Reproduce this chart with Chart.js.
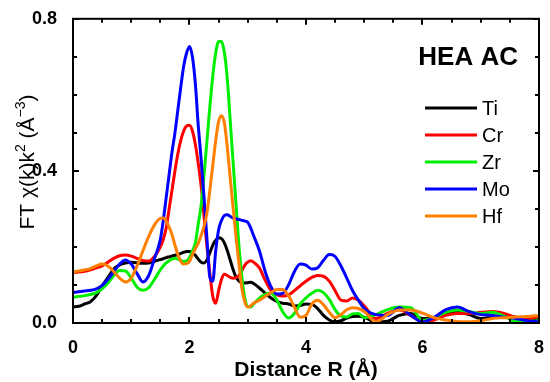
<!DOCTYPE html>
<html lang="en">
  <head>
    <meta charset="UTF-8" />
    <title>HEA AC - FT EXAFS</title>
    <style>
      html,
      body {
        margin: 0;
        padding: 0;
        background: #fff;
      }
      .wrap {
        width: 550px;
        height: 382px;
        position: relative;
      }
    </style>
    <script src="https://cdn.jsdelivr.net/npm/chart.js"></script>
  </head>
  <body>
    <div class="wrap"><canvas id="ftChart"></canvas></div>
    <script>
      // distance R (Å), finer spacing around the main peaks
      const distance = [
        0, 0.1, 0.2, 0.3, 0.4, 0.5, 0.6, 0.7, 0.8, 0.9, 1.0, 1.1, 1.2, 1.3, 1.4,
        1.5, 1.55, 1.6, 1.65, 1.7, 1.75, 1.8, 1.85, 1.9, 1.95, 2.0, 2.05, 2.1, 2.15, 2.2, 2.25,
        2.3, 2.35, 2.4, 2.45, 2.5, 2.55, 2.6, 2.65, 2.7, 2.75, 2.8, 2.85, 2.9, 2.95, 3.0, 3.05, 3.1,
        3.2, 3.3, 3.4, 3.5, 3.6, 3.7, 3.8, 3.9, 4.0, 4.1, 4.2, 4.3, 4.4, 4.5, 4.6, 4.7, 4.8, 4.9, 5.0,
        5.2, 5.4, 5.6, 5.8, 6.0, 6.2, 6.4, 6.6, 6.8, 7.0, 7.2, 7.4, 7.6, 7.8, 8.0,
      ];

      const ti = [
        0.042, 0.044, 0.05, 0.056, 0.072, 0.097, 0.12, 0.142, 0.153, 0.158, 0.16, 0.158, 0.157, 0.158, 0.162,
        0.167, 0.169, 0.172, 0.174, 0.176, 0.178, 0.18, 0.183, 0.186, 0.188, 0.188, 0.185, 0.178, 0.168, 0.16, 0.158,
        0.166, 0.185, 0.205, 0.218, 0.224, 0.222, 0.21, 0.19, 0.165, 0.14, 0.12, 0.11, 0.106, 0.105, 0.106, 0.107, 0.104,
        0.092, 0.078, 0.066, 0.057, 0.052, 0.05, 0.045, 0.046, 0.05, 0.049, 0.038, 0.02, 0.008, 0.003, 0.006, 0.013, 0.017, 0.018, 0.015,
        0.003, 0.005, 0.02, 0.025, 0.012, 0.012, 0.022, 0.028, 0.022, 0.012, 0.015, 0.02, 0.015, 0.01, 0.008,
      ];

      const cr = [
        0.133, 0.134, 0.136, 0.14, 0.145, 0.15, 0.16, 0.17, 0.177, 0.179, 0.176, 0.17, 0.164, 0.163, 0.175,
        0.2, 0.22, 0.25, 0.3, 0.35, 0.4, 0.445, 0.48, 0.505, 0.518, 0.52, 0.505, 0.47, 0.42, 0.36, 0.28,
        0.2, 0.13, 0.07, 0.052, 0.085, 0.115, 0.128, 0.125, 0.12, 0.118, 0.12, 0.125, 0.138, 0.152, 0.16, 0.164, 0.16,
        0.145, 0.112, 0.085, 0.074, 0.071, 0.074, 0.085, 0.098, 0.11, 0.12, 0.125, 0.123, 0.11, 0.085, 0.06, 0.058, 0.066, 0.06, 0.045,
        0.012, 0.025, 0.035, 0.02, 0.004, 0.008, 0.02, 0.025, 0.025, 0.028, 0.03, 0.025, 0.015, 0.01, 0.018,
      ];

      const zr = [
        0.068, 0.07, 0.072, 0.075, 0.08, 0.09, 0.105, 0.125, 0.138, 0.137, 0.118, 0.094, 0.086, 0.093, 0.115,
        0.14, 0.15, 0.158, 0.164, 0.168, 0.17, 0.168, 0.165, 0.162, 0.163, 0.172, 0.19, 0.21, 0.26, 0.31, 0.39,
        0.48, 0.57, 0.65, 0.71, 0.74, 0.74, 0.71, 0.64, 0.53, 0.42, 0.31, 0.2, 0.12, 0.065, 0.043, 0.042, 0.05,
        0.065, 0.075, 0.078, 0.06, 0.03, 0.013, 0.025, 0.05, 0.066, 0.078, 0.086, 0.08, 0.062, 0.035, 0.018, 0.016, 0.024, 0.025, 0.014,
        0.022, 0.035, 0.042, 0.04, 0.007, 0.015, 0.028, 0.034, 0.03, 0.025, 0.028, 0.018, 0.004, 0.004, 0.006,
      ];

      const mo = [
        0.08, 0.082, 0.084, 0.086, 0.09, 0.099, 0.115, 0.135, 0.155, 0.166, 0.155, 0.13, 0.108, 0.125, 0.17,
        0.22, 0.27, 0.33, 0.39, 0.45, 0.5, 0.56, 0.62, 0.675, 0.71, 0.727, 0.7, 0.63, 0.52, 0.43, 0.33,
        0.22, 0.12, 0.11, 0.19, 0.245, 0.27, 0.283, 0.285, 0.28, 0.276, 0.274, 0.272, 0.27, 0.268, 0.265, 0.25, 0.23,
        0.19, 0.135, 0.095, 0.076, 0.078, 0.1, 0.135, 0.155, 0.152, 0.142, 0.145, 0.165, 0.18, 0.175, 0.15, 0.118, 0.085, 0.06, 0.038,
        0.022, 0.02, 0.04, 0.02, 0.003, 0.015, 0.035, 0.042, 0.03, 0.022, 0.02, 0.015, 0.012, 0.006, 0.003,
      ];

      const hf = [
        0.135, 0.137, 0.14, 0.143, 0.15, 0.155, 0.15, 0.135, 0.118, 0.108, 0.118, 0.15, 0.19, 0.228, 0.258,
        0.275, 0.276, 0.268, 0.252, 0.232, 0.205, 0.18, 0.162, 0.155, 0.156, 0.162, 0.18, 0.195, 0.21, 0.23, 0.255,
        0.29, 0.35, 0.415, 0.48, 0.53, 0.545, 0.525, 0.46, 0.38, 0.3, 0.225, 0.155, 0.09, 0.055, 0.042, 0.045, 0.052,
        0.06, 0.07, 0.08, 0.088, 0.088, 0.072, 0.042, 0.015, 0.02, 0.05, 0.06, 0.048, 0.028, 0.014, 0.022, 0.035, 0.04, 0.038, 0.03,
        0.003, 0.022, 0.034, 0.034, 0.026, 0.014, 0.008, 0.004, 0.003, 0.006, 0.012, 0.014, 0.016, 0.017, 0.02,
      ];

      const elements = ["Ti", "Cr", "Zr", "Mo", "Hf"];
      const series = [ti, cr, zr, mo, hf];
      const lineColors = ["#000000", "#ff0000", "#00ee00", "#0000ff", "#ff8000"];

      const FONT = "'Liberation Sans', Arial, sans-serif";

      const datasets = elements.map((name, i) => ({
        label: name,
        data: distance.map((r, j) => ({ x: r, y: series[i][j] })),
        borderColor: lineColors[i],
        borderWidth: 3,
        pointRadius: 0,
        cubicInterpolationMode: "monotone",
        fill: false,
        order: elements.length - i, // Hf drawn on top
      }));

      // frame, inward ticks, title text and legend
      const decorPlugin = {
        id: "decor",
        afterDraw(chart) {
          const ctx = chart.ctx;
          const a = chart.chartArea;
          const xs = chart.scales.x;
          const ys = chart.scales.y;
          ctx.save();
          ctx.strokeStyle = "#000";
          ctx.lineWidth = 2;
          ctx.strokeRect(a.left, a.top, a.right - a.left, a.bottom - a.top);

          ctx.beginPath();
          xs.ticks.forEach((t) => {
            const px = Math.round(xs.getPixelForValue(t.value));
            const len = t.label ? 6 : 4;
            ctx.moveTo(px, a.bottom);
            ctx.lineTo(px, a.bottom - len);
            ctx.moveTo(px, a.top);
            ctx.lineTo(px, a.top + len);
          });
          ys.ticks.forEach((t) => {
            const py = Math.round(ys.getPixelForValue(t.value));
            const len = t.label ? 6 : 4;
            ctx.moveTo(a.left, py);
            ctx.lineTo(a.left + len, py);
            ctx.moveTo(a.right, py);
            ctx.lineTo(a.right - len, py);
          });
          ctx.stroke();

          ctx.fillStyle = "#000";

          // panel label
          ctx.font = "bold 26px " + FONT;
          ctx.textAlign = "right";
          ctx.textBaseline = "alphabetic";
          ctx.fillText("HEA AC", 518, 65);

          // legend
          ctx.font = "20px " + FONT;
          ctx.textAlign = "left";
          elements.forEach((name, i) => {
            const y = 108 + i * 27;
            ctx.strokeStyle = lineColors[i];
            ctx.lineWidth = 3;
            ctx.beginPath();
            ctx.moveTo(425, y);
            ctx.lineTo(477, y);
            ctx.stroke();
            ctx.fillText(name, 482, y + 7);
          });

          // x title
          ctx.font = "bold 21px " + FONT;
          ctx.textAlign = "center";
          ctx.fillText("Distance R (Å)", (a.left + a.right) / 2, 376);

          // y title with superscripts
          const parts = [
            ["FT χ(k)k", false],
            ["2", true],
            [" (Å", false],
            ["−3", true],
            [")", false],
          ];
          const big = "21px " + FONT;
          const small = "14px " + FONT;
          let total = 0;
          parts.forEach(([s, sup]) => {
            ctx.font = sup ? small : big;
            total += ctx.measureText(s).width;
          });
          ctx.translate(34, 162);
          ctx.rotate(-Math.PI / 2);
          ctx.textAlign = "left";
          let x = -total / 2;
          parts.forEach(([s, sup]) => {
            ctx.font = sup ? small : big;
            ctx.fillText(s, x, sup ? -9 : 0);
            x += ctx.measureText(s).width;
          });
          ctx.restore();
        },
      };

      const config = {
        type: "line",
        data: { datasets: datasets },
        options: {
          responsive: true,
          maintainAspectRatio: false,
          animation: false,
          layout: { padding: { left: 0, top: 15, right: 10, bottom: 0 } },
          plugins: { legend: { display: false }, tooltip: { enabled: false } },
          scales: {
            x: {
              type: "linear",
              min: 0,
              max: 8,
              grid: { display: false },
              border: { display: false },
              ticks: {
                stepSize: 0.5,
                autoSkip: false,
                maxRotation: 0,
                padding: 6,
                color: "#000",
                font: { family: FONT, size: 18, weight: "bold" },
                callback: (v) => (v % 2 === 0 ? String(v) : ""),
              },
              afterFit: (s) => {
                s.height = 59;
              },
            },
            y: {
              min: 0,
              max: 0.8,
              grid: { display: false },
              border: { display: false },
              ticks: {
                stepSize: 0.1,
                autoSkip: false,
                padding: 8,
                color: "#000",
                font: { family: FONT, size: 18, weight: "bold" },
                callback: (v) => (Math.round(v * 10) % 4 === 0 ? v.toFixed(1) : ""),
              },
              afterFit: (s) => {
                s.width = 73;
              },
            },
          },
        },
        plugins: [decorPlugin],
      };

      const ftChart = new Chart(document.getElementById("ftChart"), config);
    </script>
  </body>
</html>
